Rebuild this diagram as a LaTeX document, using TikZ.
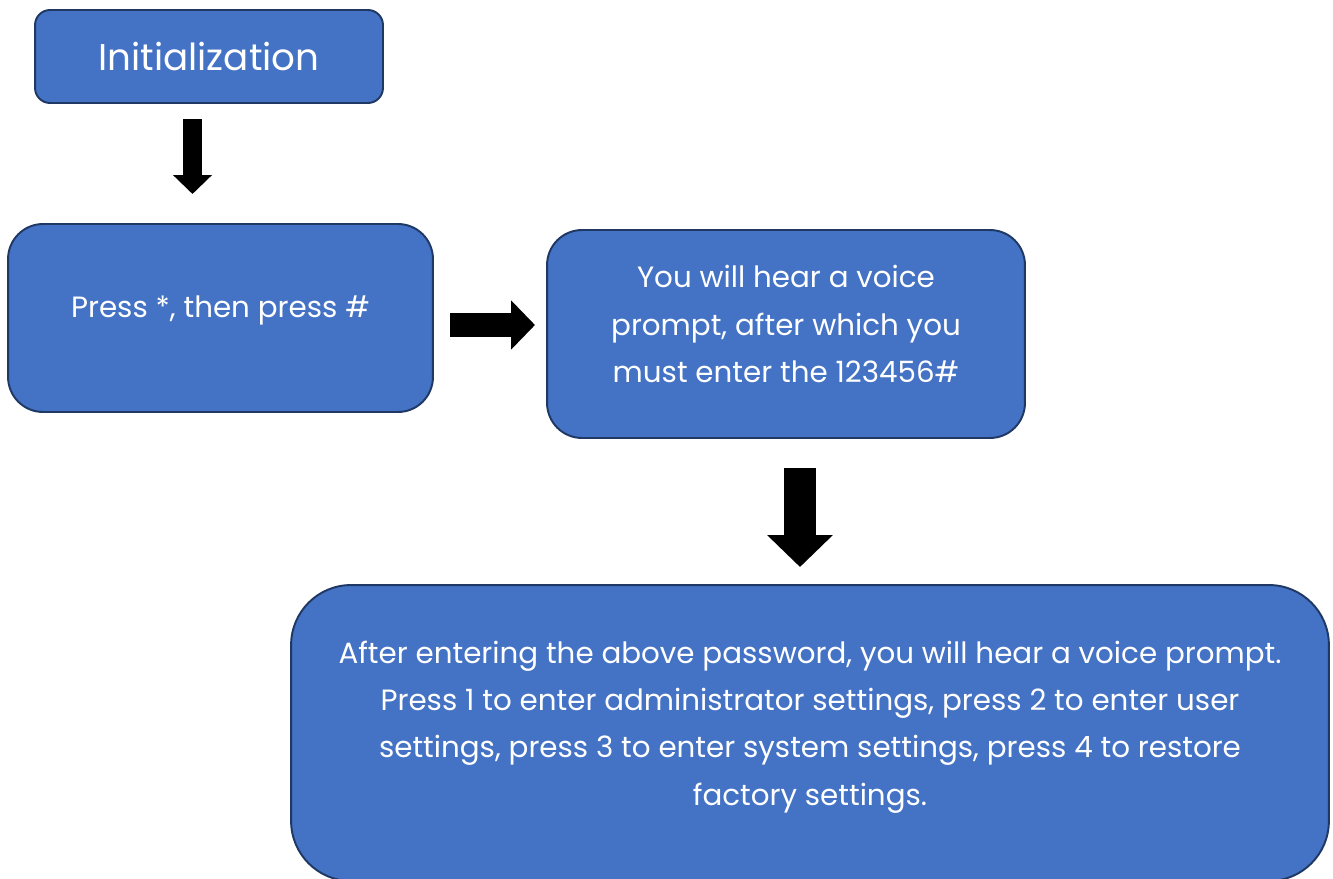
\documentclass[tikz,border=0pt]{standalone}
\usepackage{fontspec}
\setmainfont{Poppins}
\usetikzlibrary{arrows.meta}

\definecolor{boxblue}{HTML}{4472C4}
\definecolor{boxline}{HTML}{1F3864}

\begin{document}
\begin{tikzpicture}[x=0.02cm, y=-0.02cm,
    box/.style={draw=boxline, line width=1.1pt, fill=boxblue, rounded corners=#1, inner sep=0pt},
    box/.default=0.7cm,
    boxtext/.style={text=white, font=\fontsize{16.7}{27}\selectfont, align=center},
    blockarrow/.style={line width=#1, -{Triangle[length=0pt 1, width=0pt 2]}}]
  \useasboundingbox (0,0) rectangle (1333,879);

  % Boxes of the flow
  \node[box=0.3cm, minimum width=6.96cm, minimum height=1.86cm, boxtext,
        font=\fontsize{21.2}{26}\selectfont] (init) at (209,56.5) {Initialization};
  \node[box, minimum width=8.5cm, minimum height=3.76cm] (press) at (220.5,318) {};
  \node[boxtext] (presstext) at (220.5,310) {Press *, then press \#};
  \node[box, minimum width=9.56cm, minimum height=4.16cm] (voice) at (786,334) {};
  \node[boxtext] (voicetext) at (786,324) {You will hear a voice\\ prompt, after which you\\ must enter the 123456\#};
  \node[box=1.2cm, minimum width=20.76cm, minimum height=5.92cm] (final) at (810,733) {};
  \node[boxtext] (finaltext) at (810,727) {After entering the above password, you will hear a voice prompt.\\
    Press 1 to enter administrator settings, press 2 to enter user\\
    settings, press 3 to enter system settings, press 4 to restore\\
    factory settings.};

  % Ends of the block arrows (they stand free between the boxes)
  \coordinate (a1s) at (192.5,119); % below Initialization
  \coordinate (a1e) at (192.5,194);
  \coordinate (a2s) at (450,325);   % between the two middle boxes
  \coordinate (a2e) at (535,325);
  \coordinate (a3s) at (800,468);   % above the last box
  \coordinate (a3e) at (800,567);

  \draw[blockarrow=0.38cm] (a1s) -- (a1e);
  \draw[blockarrow=0.48cm] (a2s) -- (a2e);
  \draw[blockarrow=0.64cm] (a3s) -- (a3e);
\end{tikzpicture}
\end{document}
